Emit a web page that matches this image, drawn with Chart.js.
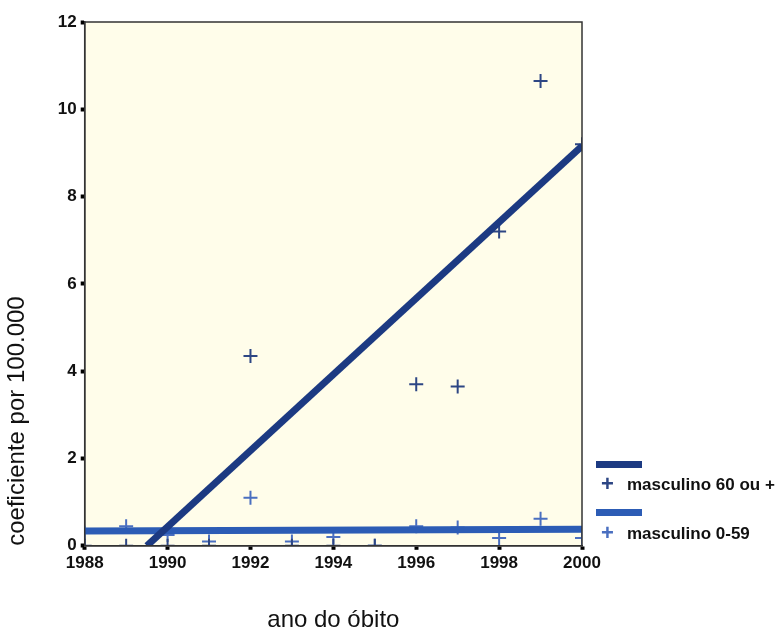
<!DOCTYPE html>
<html>
<head>
<meta charset="utf-8">
<script src="https://cdn.jsdelivr.net/npm/chart.js@4"></script>
<style>
  body { margin: 0; background: #fff; }
  #wrap { position: relative; width: 783px; height: 640px; }
  .leg { position: absolute; font-family: "Liberation Sans", Arial, sans-serif; font-weight: bold; font-size: 17px; color: #111; white-space: nowrap; }
  .sw { position: absolute; left: 596px; width: 46px; height: 7px; }
  .plus { position: absolute; left: 602px; font-size: 22px; font-weight: bold; line-height: 20px; }
</style>
</head>
<body>
<div id="wrap">
  <canvas id="chart" width="783" height="640"></canvas>
  <div class="sw" style="top:461px;background:#1c3a82"></div>
  <div class="plus leg" style="top:474px;left:601px;color:#2d4684">+</div>
  <div class="leg" style="top:475px;left:627px">masculino 60 ou +</div>
  <div class="sw" style="top:509px;background:#2c5cb5"></div>
  <div class="plus leg" style="top:523px;left:601px;color:#4a6fc0">+</div>
  <div class="leg" style="top:524px;left:627px">masculino 0-59</div>
</div>
<script>
// anos e coeficientes
const years = [1988, 1989, 1990, 1991, 1992, 1993, 1994, 1995, 1996, 1997, 1998, 1999, 2000];
const old60 = [0, 0, 0, 0, 4.35, 0, 0, 0, 3.7, 3.65, 7.2, 10.65, 9.2];
const young059 = [0.3, 0.45, 0.25, 0.1, 1.1, 0.1, 0.2, 0, 0.45, 0.42, 0.18, 0.62, 0.18];

// retas de ajuste (extremos)
const fitOldX = [1989.5, 2000];
const fitOldY = [0, 9.16];
const fitYoungX = [1988, 2000];
const fitYoungY = [0.34, 0.38];

const yTicks = [0, 2, 4, 6, 8, 10, 12];

function pts(xs, ys) {
  return xs.map((x, i) => ({ x: x, y: ys[i] }));
}

const plotArea = {
  id: 'plotArea',
  beforeDraw(chart) {
    const a = chart.chartArea, c = chart.ctx;
    c.save();
    c.fillStyle = '#fffdea';
    c.fillRect(a.left, a.top, a.right - a.left, a.bottom - a.top);
    c.restore();
  },
  afterDraw(chart) {
    const a = chart.chartArea, c = chart.ctx;
    c.save();
    c.strokeStyle = '#333';
    c.lineWidth = 1.5;
    c.strokeRect(a.left, a.top, a.right - a.left, a.bottom - a.top);
    c.restore();
  }
};

const tickFont = { family: '"Liberation Sans", Arial, sans-serif', size: 17, weight: 'bold' };
const titleFont = { family: '"Liberation Sans", Arial, sans-serif', size: 24 };

const ctx = document.getElementById('chart').getContext('2d');
const chart = new Chart(ctx, {
  type: 'scatter',
  data: {
    datasets: [
      {
        type: 'line',
        data: pts(fitOldX, fitOldY),
        borderColor: '#1c3a82',
        borderWidth: 7,
        pointRadius: 0,
        fill: false
      },
      {
        type: 'line',
        data: pts(fitYoungX, fitYoungY),
        borderColor: '#2c5cb5',
        borderWidth: 7,
        pointRadius: 0,
        fill: false
      },
      {
        data: pts(years, old60),
        pointStyle: 'cross',
        pointRadius: 7,
        borderWidth: 2,
        borderColor: '#2d4684',
        showLine: false
      },
      {
        data: pts(years, young059),
        pointStyle: 'cross',
        pointRadius: 7,
        borderWidth: 2,
        borderColor: '#4a6fc0',
        showLine: false
      }
    ]
  },
  options: {
    responsive: false,
    animation: false,
    layout: { padding: { top: 22, right: 201, bottom: 0, left: 0 } },
    scales: {
      x: {
        type: 'linear',
        min: 1988,
        max: 2000,
        grid: { drawOnChartArea: false, tickLength: 4, tickWidth: 4, tickColor: '#000' },
        border: { color: '#333', width: 1.5 },
        ticks: {
          stepSize: 2,
          color: '#111',
          font: tickFont,
          padding: 3,
          callback: function(value) { return String(value); }
        },
        title: { display: true, text: 'ano do óbito', color: '#111', font: titleFont, padding: { top: 30, bottom: 5 } }
      },
      y: {
        min: 0,
        max: 12,
        afterBuildTicks: function(scale) {
          scale.ticks = yTicks.map(v => ({ value: v }));
        },
        grid: { drawOnChartArea: false, tickLength: 4, tickWidth: 4, tickColor: '#000' },
        border: { color: '#333', width: 1.5 },
        ticks: { color: '#111', font: tickFont, padding: 4 },
        title: { display: true, text: 'coeficiente por 100.000', align: 'start', color: '#111', font: titleFont, padding: { top: 3, bottom: 22 } }
      }
    },
    plugins: {
      legend: { display: false },
      title: { display: false },
      tooltip: { enabled: false }
    }
  },
  plugins: [plotArea]
});
</script>
</body>
</html>
